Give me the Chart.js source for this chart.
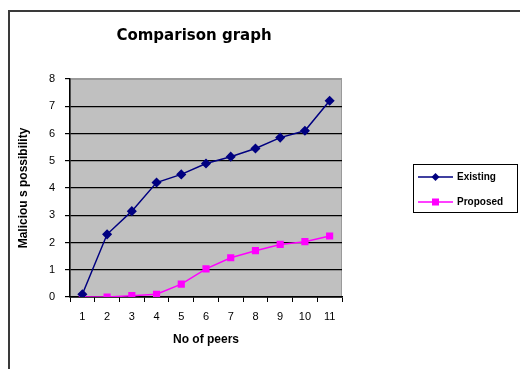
<!DOCTYPE html>
<html>
<head>
<meta charset="utf-8">
<script src="https://cdn.jsdelivr.net/npm/chart.js@4.4.1/dist/chart.umd.min.js"></script>
<style>
  body { margin: 0; background: #fff; }
  canvas { display: block; }
</style>
</head>
<body>
<canvas id="chart" width="520" height="369"></canvas>
<script>
// chart data
const peers = ['1', '2', '3', '4', '5', '6', '7', '8', '9', '10', '11'];
const existing = [0.1, 2.3, 3.15, 4.2, 4.5, 4.9, 5.15, 5.45, 5.85, 6.1, 7.2];
const proposed = [0, 0, 0.05, 0.1, 0.47, 1.03, 1.44, 1.7, 1.93, 2.03, 2.24];
const seriesNames = ['Existing', 'Proposed'];
const chartTitle = 'Comparison graph';

// Plugin to paint the grey plot area, the outer frame, the title and the boxed legend
const decorPlugin = {
  id: 'decor',
  beforeDraw(chart) {
    const { ctx, chartArea } = chart;
    ctx.save();
    ctx.fillStyle = '#c0c0c0';
    ctx.fillRect(chartArea.left, chartArea.top, chartArea.right - chartArea.left, chartArea.bottom - chartArea.top);
    ctx.strokeStyle = '#9a9a9a';
    ctx.lineWidth = 1;
    ctx.strokeRect(chartArea.left + 0.5, chartArea.top + 0.5, chartArea.right - chartArea.left - 1, chartArea.bottom - chartArea.top);
    ctx.restore();
  },
  afterDraw(chart) {
    const { ctx } = chart;
    ctx.save();
    // outer frame (left and top edges only)
    ctx.strokeStyle = '#3a3a3a';
    ctx.lineWidth = 2;
    ctx.beginPath();
    ctx.moveTo(9, 369);
    ctx.lineTo(9, 11);
    ctx.lineTo(520, 11);
    ctx.stroke();

    // title
    ctx.fillStyle = '#000';
    ctx.font = 'bold 15px "DejaVu Sans", sans-serif';
    ctx.textAlign = 'center';
    ctx.textBaseline = 'middle';
    ctx.fillText(chartTitle, 194, 36);

    // legend box
    ctx.lineWidth = 1;
    ctx.strokeStyle = '#000';
    ctx.strokeRect(413.5, 164.5, 104, 48);
    ctx.font = 'bold 10px "Liberation Sans", Arial, sans-serif';
    ctx.textAlign = 'left';
    chart.data.datasets.forEach((ds, i) => {
      const y = 177 + i * 25;
      ctx.strokeStyle = ds.borderColor;
      ctx.lineWidth = 1.5;
      ctx.beginPath();
      ctx.moveTo(418, y);
      ctx.lineTo(453, y);
      ctx.stroke();
      ctx.fillStyle = ds.borderColor;
      if (ds.pointStyle === 'rect') {
        ctx.fillRect(432, y - 3.5, 7, 7);
      } else {
        ctx.beginPath();
        ctx.moveTo(435.5, y - 4);
        ctx.lineTo(439.5, y);
        ctx.lineTo(435.5, y + 4);
        ctx.lineTo(431.5, y);
        ctx.closePath();
        ctx.fill();
      }
      ctx.fillStyle = '#000';
      ctx.fillText(ds.label, 457, y);
    });
    ctx.restore();
  }
};

const ctx = document.getElementById('chart');
const chart = new Chart(ctx, {
  type: 'line',
  data: {
    labels: peers,
    datasets: [{
      label: seriesNames[0],
      data: existing,
      borderColor: '#000080',
      backgroundColor: '#000080',
      borderWidth: 1.5,
      pointStyle: 'rectRot',
      pointRadius: 4,
      pointHoverRadius: 4
    }, {
      label: seriesNames[1],
      data: proposed,
      borderColor: '#ff00ff',
      backgroundColor: '#ff00ff',
      borderWidth: 1.5,
      pointStyle: 'rect',
      pointRadius: 4,
      pointHoverRadius: 4
    }]
  },
  options: {
    responsive: false,
    animation: false,
    layout: {
      padding: { left: 12, right: 178, top: 79, bottom: 18 }
    },
    plugins: {
      legend: { display: false },
      title: { display: false },
      tooltip: { enabled: false }
    },
    scales: {
      x: {
        offset: true,
        grid: {
          offset: true,
          drawOnChartArea: false,
          color: '#000',
          tickLength: 5,
          lineWidth: 1
        },
        border: { color: '#000', width: 1.5 },
        ticks: {
          color: '#000',
          font: { family: '"Liberation Sans", Arial, sans-serif', size: 11 },
          padding: 8,
          maxRotation: 0
        },
        title: {
          display: true,
          text: 'No of peers',
          color: '#000',
          font: { family: '"Liberation Sans", Arial, sans-serif', size: 12, weight: 'bold' },
          padding: { top: 6 }
        },
        afterFit(scale) { scale.height = 54; }
      },
      y: {
        min: 0,
        max: 8,
        ticks: {
          stepSize: 1,
          color: '#000',
          font: { family: '"Liberation Sans", Arial, sans-serif', size: 11 },
          padding: 10
        },
        grid: {
          color: c => (c.tick && c.tick.value === 8 ? '#9a9a9a' : '#000'),
          tickColor: '#000',
          tickLength: 5,
          lineWidth: 1.2
        },
        border: { color: '#000', width: 1.5 },
        title: {
          display: true,
          text: 'Maliciou s possibility',
          color: '#000',
          font: { family: '"Liberation Sans", Arial, sans-serif', size: 12, weight: 'bold' },
          padding: { bottom: 8 }
        },
        afterFit(scale) { scale.width = 58; }
      }
    }
  },
  plugins: [decorPlugin]
});
</script>
</body>
</html>
